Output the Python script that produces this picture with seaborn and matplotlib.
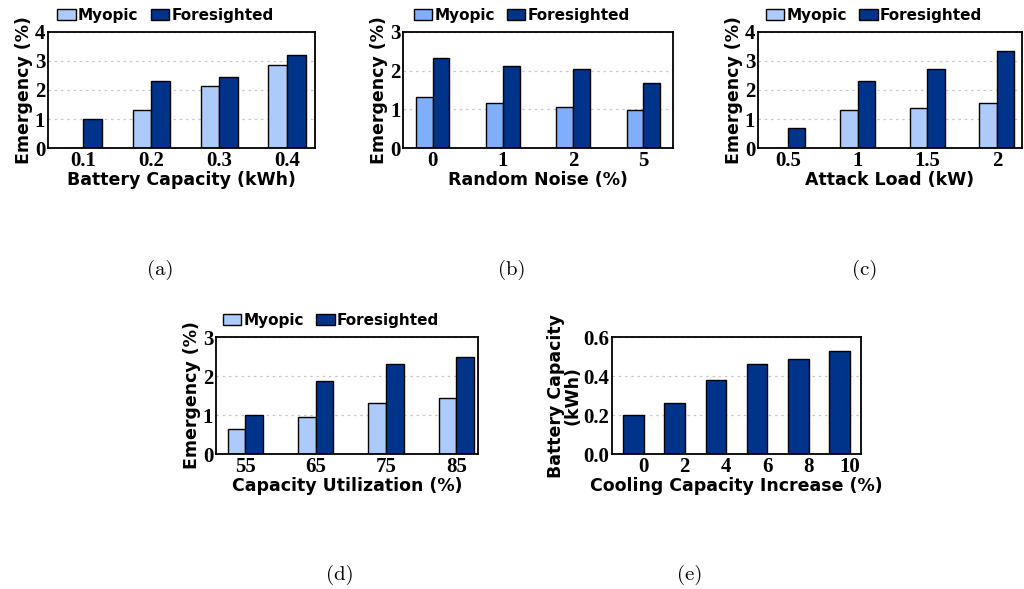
import matplotlib
matplotlib.use("Agg")
import matplotlib.pyplot as plt
import matplotlib.transforms as mtransforms
from matplotlib.patches import Patch
import numpy as np
import pandas as pd
import seaborn as sns

# ---- data ----
battery_caps = ["0.1", "0.2", "0.3", "0.4"]
battery_myopic = [0.0, 1.30, 2.14, 2.85]
battery_foresighted = [1.01, 2.32, 2.44, 3.22]

noise_levels = ["0", "1", "2", "5"]
noise_myopic = [1.32, 1.17, 1.06, 0.97]
noise_foresighted = [2.33, 2.12, 2.04, 1.67]

attack_loads = ["0.5", "1", "1.5", "2"]
attack_myopic = [0.0, 1.31, 1.37, 1.56]
attack_foresighted = [0.70, 2.32, 2.72, 3.33]

utilizations = ["55", "65", "75", "85"]
util_myopic = [0.65, 0.96, 1.31, 1.44]
util_foresighted = [1.01, 1.87, 2.32, 2.49]

cooling_increase = ["0", "2", "4", "6", "8", "10"]
cooling_battery = [0.20, 0.26, 0.38, 0.46, 0.485, 0.53]

series_names = ["Myopic", "Foresighted"]

# ---- style ----
sns.set_theme(style="white")
plt.rcParams["font.family"] = ["DejaVu Sans"]
plt.rcParams["font.weight"] = "bold"
plt.rcParams["text.color"] = "black"
plt.rcParams["axes.labelcolor"] = "black"
plt.rcParams["xtick.color"] = "black"
plt.rcParams["ytick.color"] = "black"

LIGHT = "#adcbfa"
LIGHT_B = "#80aefa"
DARK = "#00338a"
LABEL_FONT = dict(family=["DejaVu Sans"], weight="bold", size=12.5, color="black")
TICK_FONT = dict(family=["Liberation Serif", "DejaVu Serif"], weight="bold", size=15)

fig = plt.figure(figsize=(10.24, 5.89), dpi=100)


def frame(ax, ylim, yticks, yfmt):
    ax.set_ylim(*ylim)
    ax.set_yticks(yticks)
    ax.set_yticklabels([yfmt.format(t) for t in yticks], color="black", **TICK_FONT)
    ax.yaxis.grid(True, linestyle=(0, (2, 3)), color="#c8c8c8", linewidth=0.9)
    ax.set_axisbelow(True)
    for s in ax.spines.values():
        s.set_visible(True)
        s.set_color("black")
        s.set_linewidth(1.3)
    ax.tick_params(axis="both", length=0, pad=2, colors="black")
    for lab in ax.get_xticklabels():
        lab.set_fontfamily(TICK_FONT["family"])
        lab.set_fontweight("bold")
        lab.set_fontsize(TICK_FONT["size"])
        lab.set_color("black")


def grouped(rect, cats, myo, fore, xlabel, ylim, yticks, xlim, width, light):
    ax = fig.add_axes(rect)
    df = pd.DataFrame({
        "cat": cats * 2,
        "val": list(myo) + list(fore),
        "series": [series_names[0]] * len(cats) + [series_names[1]] * len(cats),
    })
    sns.barplot(data=df, x="cat", y="val", hue="series", order=cats,
                hue_order=series_names, palette=[light, DARK], width=width,
                gap=0, edgecolor="black", linewidth=1.0, errorbar=None,
                legend=False, ax=ax, saturation=1)
    ax.set_xlim(*xlim)
    ax.set_xlabel(xlabel, labelpad=0, **LABEL_FONT)
    ax.set_ylabel("Emergency (%)", labelpad=1, **LABEL_FONT)
    frame(ax, ylim, yticks, "{:g}")
    handles = [Patch(facecolor=light, edgecolor="black", linewidth=1.0),
               Patch(facecolor=DARK, edgecolor="black", linewidth=1.0)]
    leg = ax.legend(handles, series_names, loc="lower center",
                    bbox_to_anchor=(0.44, 1.08), ncol=2, frameon=False,
                    prop=dict(family=["DejaVu Sans"], weight="bold", size=11),
                    handlelength=1.2, handleheight=0.8, handletextpad=0.15,
                    columnspacing=0.8, borderpad=0, borderaxespad=0)
    for t in leg.get_texts():
        t.set_color("black")
    return ax


grouped([0.0469, 0.7487, 0.2607, 0.1970], battery_caps, battery_myopic,
        battery_foresighted, "Battery Capacity (kWh)", (0, 4), [0, 1, 2, 3, 4],
        (-0.52, 3.41), 0.55, LIGHT)
grouped([0.3936, 0.7487, 0.2636, 0.1970], noise_levels, noise_myopic,
        noise_foresighted, "Random Noise (%)", (0, 3), [0, 1, 2, 3],
        (-0.42, 3.42), 0.48, LIGHT_B)
grouped([0.7402, 0.7487, 0.2578, 0.1970], attack_loads, attack_myopic,
        attack_foresighted, "Attack Load (kW)", (0, 4), [0, 1, 2, 3, 4],
        (-0.43, 3.36), 0.5, LIGHT)
grouped([0.2109, 0.2292, 0.2559, 0.1986], utilizations, util_myopic,
        util_foresighted, "Capacity Utilization (%)", (0, 3), [0, 1, 2, 3],
        (-0.42, 3.31), 0.5, LIGHT)

# panel (e): single series
ax_e = fig.add_axes([0.5977, 0.2292, 0.2431, 0.1986])
df_e = pd.DataFrame({"inc": cooling_increase, "cap": cooling_battery})
sns.barplot(data=df_e, x="inc", y="cap", order=cooling_increase, color=DARK,
            width=0.5, edgecolor="black", linewidth=1.0, errorbar=None,
            ax=ax_e, saturation=1)
ax_e.set_xlim(-0.52, 5.52)
ax_e.set_xlabel("Cooling Capacity Increase (%)", labelpad=0, **LABEL_FONT)
ax_e.set_ylabel("Battery Capacity\n(kWh)", labelpad=1, linespacing=0.9,
                **LABEL_FONT)
frame(ax_e, (0, 0.6), [0.0, 0.2, 0.4, 0.6], "{:.1f}")
shift = mtransforms.ScaledTranslation(10 / 100, 0, fig.dpi_scale_trans)
for lab in ax_e.get_xticklabels():
    lab.set_transform(lab.get_transform() + shift)

# sub-figure captions
cap_font = dict(family=["cmr10", "DejaVu Serif"], size=15, weight="normal",
                ha="center", va="center", color="black")
for x, y, t in [(160, 270, "(a)"), (512, 270, "(b)"), (865, 270, "(c)"),
                (340, 575, "(d)"), (690, 575, "(e)")]:
    fig.text(x / 1024, 1 - y / 589, t, **cap_font)

fig.savefig("out.png", dpi=100)
